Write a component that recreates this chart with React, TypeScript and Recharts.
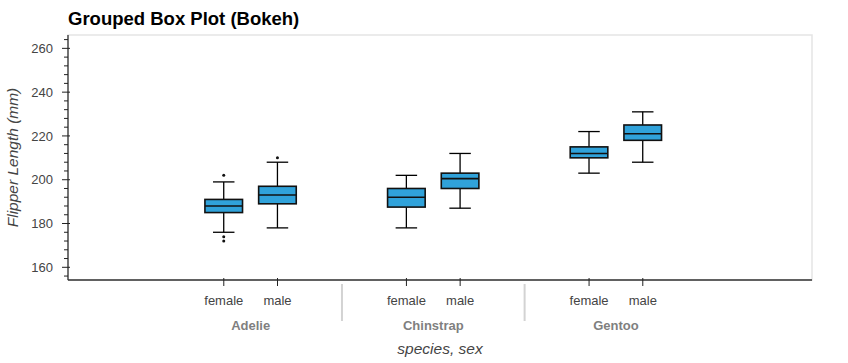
import { ComposedChart, Bar, XAxis, YAxis, ReferenceArea } from "recharts";

const species = ["Adelie", "Chinstrap", "Gentoo"];
const sexes = ["female", "male"];

// stats per species, [female, male]
const lowerWhisker = [[176, 178], [178, 187], [203, 208]];
const q1 = [[185, 189], [187.5, 196], [210, 218]];
const median = [[188, 193], [192, 200.5], [212, 221]];
const q3 = [[191, 197], [196, 203], [215, 225]];
const upperWhisker = [[199, 208], [202, 212], [222, 231]];
const outliers = [
    [[202, 174, 172], [210]],
    [[], []],
    [[], []],
];

const yMajorTicks = [160, 180, 200, 220, 240, 260];
const yMinorStep = 4;

const FONT = '"Liberation Sans", Arial, Helvetica, sans-serif';
const W = 848;
const H = 363;
const MARGIN = { top: 35, right: 36, bottom: 0, left: 0 };
const Y_AXIS_W = 68;
const X_AXIS_H = 83;
const GROUP_PAD = 1.4;
const BOX_W = 0.7;
const CAP_W = 0.4;
const X_DOMAIN: [number, number] = [-2.4, 11.45];
const Y_DOMAIN: [number, number] = [154.2, 266.1];

const groupSpan = sexes.length + GROUP_PAD;

const rows = species.flatMap((sp, i) =>
    sexes.map((sex, j) => ({
        x: i * groupSpan + j + 0.5,
        species: sp,
        sex,
        lo: lowerWhisker[i][j],
        q1: q1[i][j],
        med: median[i][j],
        q3: q3[i][j],
        hi: upperWhisker[i][j],
        out: outliers[i][j],
        box: [q1[i][j], q3[i][j]],
    }))
);

// tick lookup: sex labels, group labels, group separators
const tickInfo = new Map<string, { kind: string; text: string }>();
rows.forEach((r) => tickInfo.set(r.x.toFixed(3), { kind: "sex", text: r.sex }));
species.forEach((sp, i) => {
    tickInfo.set((i * groupSpan + sexes.length / 2).toFixed(3), { kind: "group", text: sp });
    if (i < species.length - 1)
        tickInfo.set((i * groupSpan + sexes.length + GROUP_PAD / 2).toFixed(3), { kind: "sep", text: "" });
});
const xTicks = Array.from(tickInfo.keys()).map(Number).sort((a, b) => a - b);

const yTicks: number[] = [];
for (let v = yMajorTicks[0] - yMinorStep; v <= Y_DOMAIN[1]; v += yMinorStep) yTicks.push(v);

const plotW = W - MARGIN.left - MARGIN.right - Y_AXIS_W;
const barPx = (BOX_W * plotW) / (X_DOMAIN[1] - X_DOMAIN[0]);

function BoxShape(props: any) {
    const { x, y, width, height, payload } = props;
    const top = Math.min(y, y + height);
    const h = Math.abs(height);
    const k = h / (payload.q3 - payload.q1);
    const yv = (v: number) => top + (payload.q3 - v) * k;
    const cx = x + width / 2;
    const cap = (width * CAP_W) / BOX_W;
    return (
        <g>
            <line x1={cx} x2={cx} y1={yv(payload.hi)} y2={yv(payload.q3)} stroke="#000" strokeWidth={1.3} />
            <line x1={cx} x2={cx} y1={yv(payload.q1)} y2={yv(payload.lo)} stroke="#000" strokeWidth={1.3} />
            <line x1={cx - cap / 2} x2={cx + cap / 2} y1={yv(payload.hi)} y2={yv(payload.hi)} stroke="#000" strokeWidth={1.3} />
            <line x1={cx - cap / 2} x2={cx + cap / 2} y1={yv(payload.lo)} y2={yv(payload.lo)} stroke="#000" strokeWidth={1.3} />
            <rect x={x} y={top} width={width} height={h} fill="#30a2da" stroke="#111" strokeWidth={1.6} />
            <line x1={x} x2={x + width} y1={yv(payload.med)} y2={yv(payload.med)} stroke="#111" strokeWidth={1.6} />
            {payload.out.map((v: number, i: number) => (
                <circle key={i} cx={cx} cy={yv(v)} r={1.5} fill="#111" />
            ))}
        </g>
    );
}

function XTick(props: any) {
    const { x, y, payload } = props;
    const info = tickInfo.get(Number(payload.value).toFixed(3));
    if (!info) return null;
    if (info.kind === "sep")
        return <line x1={x} x2={x} y1={y + 4} y2={y + 41} stroke="#d3d3d3" strokeWidth={2} />;
    if (info.kind === "group")
        return (
            <text x={x} y={y + 50} textAnchor="middle" fontFamily={FONT} fontSize={13} fontWeight="bold" fill="#7f7f7f">
                {info.text}
            </text>
        );
    return (
        <g>
            <line x1={x} x2={x} y1={y - 2} y2={y + 6} stroke="#222" strokeWidth={1} />
            <text x={x} y={y + 25} textAnchor="middle" fontFamily={FONT} fontSize={13} fill="#444">
                {info.text}
            </text>
        </g>
    );
}

function YTick(props: any) {
    const { x, y, payload } = props;
    const major = yMajorTicks.includes(payload.value);
    if (!major) return <line x1={x - 4} x2={x} y1={y} y2={y} stroke="#222" strokeWidth={1} />;
    return (
        <g>
            <line x1={x - 6} x2={x + 2} y1={y} y2={y} stroke="#222" strokeWidth={1} />
            <text x={x - 15} y={y + 4.7} textAnchor="end" fontFamily={FONT} fontSize={13} fill="#444">
                {payload.value}
            </text>
        </g>
    );
}

export default function App() {
    return (
        <div style={{ position: "relative", width: W, height: H, background: "#fff" }}>
            <style>{"body{margin:0}"}</style>
            <div
                style={{
                    position: "absolute",
                    left: 68,
                    top: 10,
                    fontFamily: FONT,
                    fontSize: 18.5,
                    fontWeight: "bold",
                    lineHeight: 1,
                    color: "#000",
                    whiteSpace: "nowrap",
                }}
            >
                Grouped Box Plot (Bokeh)
            </div>
            <ComposedChart width={W} height={H} data={rows} margin={MARGIN}>
                <ReferenceArea
                    x1={X_DOMAIN[0]}
                    x2={X_DOMAIN[1]}
                    y1={Y_DOMAIN[0]}
                    y2={Y_DOMAIN[1]}
                    fill="none"
                    stroke="#e5e5e5"
                    strokeWidth={1.5}
                    ifOverflow="visible"
                />
                <XAxis
                    dataKey="x"
                    type="number"
                    domain={X_DOMAIN}
                    allowDataOverflow
                    ticks={xTicks}
                    interval={0}
                    height={X_AXIS_H}
                    tickSize={0}
                    tickMargin={0}
                    tickLine={false}
                    axisLine={{ stroke: "#333", strokeWidth: 1.3 }}
                    tick={<XTick />}
                    label={{
                        content: (p: any) => {
                            const vb = p.viewBox;
                            return (
                                <text
                                    x={vb.x + vb.width / 2}
                                    y={vb.y + 73.5}
                                    textAnchor="middle"
                                    fontFamily={FONT}
                                    fontSize={15.5}
                                    fontStyle="italic"
                                    fill="#444"
                                >
                                    species, sex
                                </text>
                            );
                        },
                    }}
                />
                <YAxis
                    type="number"
                    domain={Y_DOMAIN}
                    allowDataOverflow
                    ticks={yTicks}
                    interval={0}
                    width={Y_AXIS_W}
                    tickSize={0}
                    tickMargin={0}
                    tickLine={false}
                    axisLine={{ stroke: "#333", strokeWidth: 1.3 }}
                    tick={<YTick />}
                    label={{
                        content: (p: any) => {
                            const vb = p.viewBox;
                            const cy = vb.y + vb.height / 2;
                            return (
                                <text
                                    x={17.5}
                                    y={cy}
                                    transform={`rotate(-90, 17.5, ${cy})`}
                                    textAnchor="middle"
                                    fontFamily={FONT}
                                    fontSize={15.5}
                                    fontStyle="italic"
                                    fill="#444"
                                >
                                    Flipper Length (mm)
                                </text>
                            );
                        },
                    }}
                />
                <Bar dataKey="box" barSize={barPx} shape={<BoxShape />} isAnimationActive={false} />
            </ComposedChart>
        </div>
    );
}
